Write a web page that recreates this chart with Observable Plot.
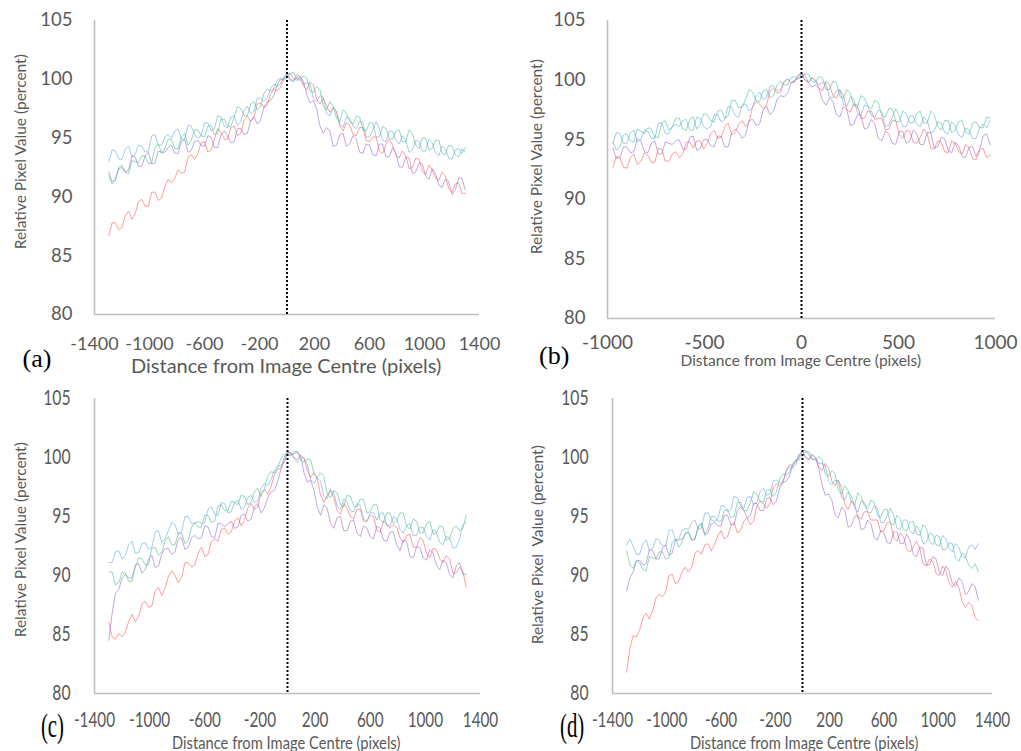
<!DOCTYPE html>
<html>
<head>
<meta charset="utf-8">
<script src="https://cdn.jsdelivr.net/npm/d3@7"></script>
<script src="https://cdn.jsdelivr.net/npm/@observablehq/plot@0.6"></script>
<style>
  body { margin: 0; background: #fff; }
  #fig { position: relative; width: 1021px; height: 751px; overflow: hidden; background: #fff;
         font-family: Lato, "Open Sans", sans-serif; color: #595959; }
  .p { position: absolute; }
  .t { position: absolute; white-space: pre; line-height: 1; transform-origin: center; }
</style>
</head>
<body>
<div id="fig"></div>
<script>
// Sample grids along the horizontal distance (pixels from centre)
const gridWide = d3.range(-1296, 1297, 24);   // panels (a), (c), (d)
const gridNarrow = d3.range(-972, 973, 18);   // panel (b)

const seriesNames = ["series1", "series2", "series3", "series4"];
const seriesColors = ["#ff5c5c", "#9a6ccc", "#6aa8e0", "#4cc08c"];
const yTicks = [80, 85, 90, 95, 100, 105];
const xTicksWide = [-1400, -1000, -600, -200, 200, 600, 1000, 1400];
const xTicksNarrow = [-1000, -500, 0, 500, 1000];

// Panel (a)
const aRed = [86.7,87.8,87.8,87.2,87.4,88.4,88.8,88.1,88.6,89.6, 89.8,89.2,89.2,90.4,90.4,89.7,89.9,90.9,91.5,91.2, 91.6,92.3,92.0,92.1,93.4,93.6,93.2,93.7,94.6,94.7, 93.8,94.0,94.9,95.8,95.5,94.9,94.9,95.9,96.0,95.2, 95.4,96.5,96.9,96.4,96.8,97.9,98.0,97.6,97.8,98.7, 99.2,99.0,99.3,100.1,100.5,100.0,99.9,100.4,100.2,99.4, 99.1,99.8,99.5,98.3,97.9,98.4,97.7,97.2,97.6,97.2, 96.0,95.6,96.3,96.1,95.3,95.2,95.9,95.9,94.8,94.7, 95.1,95.1,93.9,93.7,94.5,94.9,94.4,93.6,93.3,93.9, 93.5,92.4,92.5,93.3,93.2,92.2,91.9,92.7,92.3,91.6, 91.4,92.1,91.8,90.7,90.4,91.1,91.2,90.3,90.3];
const aPurple = [92.1,91.3,91.5,92.4,92.5,92.1,92.3,93.5,93.4,92.6, 92.6,93.5,93.8,92.8,92.9,93.9,93.8,93.8,94.2,94.4, 93.7,93.7,94.7,94.9,93.8,94.0,94.7,94.8,94.4,94.3, 95.2,95.1,94.2,94.2,95.3,95.6,95.2,94.6,94.7,95.8, 95.8,95.3,95.4,96.5,96.8,96.2,96.5,97.6,98.1,98.2, 98.6,99.5,100.0,100.0,100.4,100.5,100.1,99.9,100.3,99.8, 98.7,98.0,98.2,97.5,96.0,95.4,95.9,95.6,94.3,94.4, 95.3,95.4,94.3,94.5,95.2,94.9,93.8,93.7,94.5,94.4, 93.6,93.5,94.5,94.5,93.4,93.4,94.2,93.7,92.6,92.5, 93.4,93.3,92.0,92.1,92.9,92.8,91.8,91.5,92.4,92.0, 91.0,90.8,91.5,91.3,90.2,90.6,91.6,91.6,90.6];
const aBlue = [93.0,94.0,93.9,93.2,93.2,94.1,94.3,93.4,93.6,94.4, 94.3,93.8,93.9,95.2,95.3,94.4,94.4,95.1,95.3,95.0, 95.6,95.8,94.9,94.9,96.1,96.0,95.3,95.0,95.2,96.3, 96.3,95.6,95.8,96.9,96.8,96.0,95.9,96.8,96.9,96.1, 96.4,97.4,97.7,97.1,97.3,98.4,98.4,98.1,98.4,99.2, 99.6,99.4,99.6,100.2,100.4,99.9,99.8,100.2,100.0,99.6, 99.7,99.6,98.4,98.1,98.6,98.5,97.1,96.9,97.6,97.3, 96.2,95.9,96.8,96.7,96.0,95.8,96.4,96.3,95.1,95.1, 95.7,96.4,95.8,94.8,94.7,95.6,95.6,94.8,94.5,95.2, 94.8,93.8,94.0,94.8,94.7,93.9,93.9,94.9,94.6,93.8, 93.5,94.3,94.1,93.3,93.2,94.0,94.1,93.7,94.2];
const aGreen = [91.8,91.1,91.4,92.5,92.7,92.1,92.0,93.1,93.0,92.9, 93.5,93.5,92.8,92.9,94.2,94.5,93.7,94.1,94.9,94.9, 94.1,94.1,95.1,95.4,94.4,94.8,95.7,95.7,95.2,95.1, 96.0,96.1,95.3,95.4,96.6,96.6,96.0,96.0,96.8,97.7, 97.5,96.9,96.9,97.9,98.1,97.4,97.7,98.8,99.2,99.0, 99.2,99.9,100.1,99.9,100.1,100.5,100.6,100.0,99.9,100.3, 100.1,99.0,98.9,99.4,99.1,97.7,97.4,98.1,97.7,96.7, 96.4,97.4,97.1,96.4,96.2,96.9,96.8,95.7,95.6,96.3, 96.3,95.1,95.1,96.0,95.8,95.0,94.9,95.6,95.7,94.7, 94.7,95.7,95.4,94.4,94.1,95.0,95.0,94.0,94.1,94.8, 94.8,93.7,93.6,94.4,94.3,93.6,93.4,94.1,93.8];

// Panel (b)
const bRed = [92.7,93.6,93.5,92.7,92.6,93.5,93.8,92.9,93.2,93.9, 93.7,93.1,93.1,94.3,94.2,93.2,93.2,93.8,94.0,93.5, 93.8,94.8,94.8,94.3,94.9,94.9,94.2,94.7,95.5,95.8, 95.1,95.2,96.1,96.4,95.4,95.6,96.3,96.6,96.1,96.5, 97.8,98.2,98.0,97.6,97.9,99.1,99.3,98.9,99.0,99.8, 100.1,99.8,99.8,100.4,100.6,100.0,99.8,100.2,100.0,99.3, 99.1,99.9,99.6,98.7,98.5,99.2,98.7,97.5,97.3,98.0, 97.9,96.8,96.8,97.4,97.4,96.7,96.8,96.8,95.8,95.9, 96.6,96.6,95.4,95.1,95.8,95.7,94.8,94.7,95.2,95.9, 95.5,94.3,94.2,94.9,94.8,94.0,93.9,94.9,94.7,94.0, 93.8,94.6,94.3,93.4,93.3,94.1,94.3,93.5,93.7];
const bPurple = [94.3,93.4,93.5,94.4,94.4,93.9,94.0,95.1,94.9,94.0, 93.9,94.7,94.9,93.8,93.8,94.8,94.7,94.6,94.9,95.0, 94.2,94.2,95.2,95.3,94.1,94.3,95.0,95.0,94.5,94.4, 95.3,95.3,94.4,94.4,95.6,95.9,95.6,95.1,95.4,96.6, 96.7,96.2,96.3,97.5,97.8,97.1,97.4,98.4,98.7,98.6, 98.9,99.7,100.0,100.1,100.5,100.4,99.8,99.4,99.6,99.3, 98.3,97.9,98.5,98.2,97.1,96.9,97.8,97.5,96.2,96.3, 97.1,97.1,95.9,96.0,96.7,96.3,95.1,94.9,95.7,95.5, 94.7,94.6,95.7,95.7,94.7,94.9,95.8,95.5,94.6,94.6, 95.6,95.6,94.3,94.4,95.2,95.1,94.1,93.9,94.8,94.5, 93.6,93.5,94.4,94.4,93.6,94.2,95.3,95.5,94.6];
const bBlue = [94.7,95.6,95.5,94.7,94.7,95.6,95.8,94.8,95.0,95.8, 95.7,95.1,95.1,96.4,96.4,95.5,95.5,96.1,96.3,96.1, 96.6,96.7,95.8,95.8,96.9,96.8,96.1,95.9,96.1,97.1, 97.1,96.5,96.7,97.8,97.7,97.0,96.9,97.9,98.0,97.4, 97.7,98.7,99.0,98.4,98.5,99.5,99.5,99.1,99.2,99.9, 100.1,99.8,99.9,100.4,100.5,100.0,99.8,100.2,99.9,99.6, 99.8,99.7,98.6,98.5,99.1,99.2,98.0,97.8,98.6,98.4, 97.3,97.0,97.9,97.8,97.0,96.9,97.5,97.3,96.1,96.2, 96.9,97.6,97.0,96.1,96.1,97.0,97.0,96.3,96.1,96.9, 96.6,95.6,95.7,96.5,96.4,95.6,95.5,96.5,96.2,95.4, 95.2,96.0,95.8,95.1,95.1,96.0,96.3,96.0,96.6];
const bGreen = [94.8,94.1,94.4,95.4,95.5,94.9,94.8,95.9,95.7,95.5, 96.0,95.9,95.2,95.2,96.4,96.6,95.8,96.1,96.8,96.8, 95.9,95.8,96.7,96.9,95.9,96.3,97.2,97.1,96.6,96.5, 97.4,97.5,96.8,97.0,98.3,98.3,97.7,97.7,98.4,99.2, 99.0,98.3,98.2,99.1,99.2,98.5,98.7,99.6,99.9,99.6, 99.6,100.2,100.3,100.1,100.2,100.5,100.5,99.9,99.8,100.3, 100.2,99.2,99.2,99.9,99.8,98.6,98.5,99.2,98.9,97.9, 97.7,98.7,98.5,97.8,97.6,98.3,98.1,97.0,96.9,97.6, 97.6,96.5,96.5,97.4,97.2,96.4,96.4,97.2,97.4,96.4, 96.4,97.4,97.1,96.1,95.8,96.6,96.6,95.6,95.8,96.5, 96.6,95.6,95.5,96.4,96.5,96.0,96.0,96.9,96.8];

// Panel (c)
const cRed = [86.0,84.8,84.6,85.1,84.8,85.2,86.1,86.7,86.1,86.5, 87.6,87.8,87.3,87.4,88.7,89.0,88.3,88.9,89.9,90.4, 90.0,89.4,89.8,91.1,91.1,90.7,90.9,91.9,92.4,91.6, 91.8,92.9,93.1,92.9,93.9,94.0,93.5,93.7,94.6,94.9, 94.2,94.7,95.7,96.1,95.6,95.8,97.0,97.3,96.9,97.5, 98.5,99.0,99.1,99.6,100.4,100.4,100.0,99.8,100.2,99.9, 98.9,98.3,98.7,98.2,96.8,96.2,96.8,97.2,96.6,95.5, 95.2,96.1,95.7,95.0,94.8,95.6,95.6,94.6,94.6,95.1, 95.0,93.8,93.7,94.6,94.4,94.0,94.3,94.1,93.2,92.8, 93.4,93.5,92.4,92.4,93.2,93.0,91.9,91.5,92.3,92.2, 91.4,91.1,91.7,91.4,90.2,90.2,90.7,90.4,89.0];
const cPurple = [84.5,86.8,88.5,88.8,89.8,90.1,89.8,89.8,90.9,91.0, 90.2,90.5,91.4,91.7,90.7,90.8,91.8,92.3,92.3,91.8, 92.0,93.1,93.2,92.2,92.4,93.2,93.4,93.1,93.2,94.2, 94.1,93.3,93.2,94.4,94.4,94.1,94.4,94.6,94.0,94.1, 95.1,95.2,94.6,94.8,95.8,96.1,95.3,95.7,96.6,97.1, 97.2,97.9,99.0,100.0,100.5,100.2,100.3,100.5,100.1,98.7, 97.9,98.1,97.2,95.8,95.1,96.0,95.7,94.4,94.0,94.9, 95.0,93.8,93.8,94.6,94.7,93.6,93.3,94.2,94.0,93.3, 93.1,94.2,94.0,93.0,92.9,93.7,93.7,92.6,92.1,93.0, 92.9,91.6,91.5,92.4,92.4,91.5,91.3,92.2,91.9,90.9, 90.5,91.3,91.1,90.1,89.8,90.8,91.1,90.1,90.1];
const cBlue = [91.1,91.1,92.0,92.1,91.4,91.7,92.6,92.9,91.9,91.9, 92.7,92.8,92.2,92.4,93.7,93.8,92.8,93.1,93.8,94.5, 94.3,93.5,93.7,95.0,95.0,94.4,94.4,94.6,94.4,94.5, 95.6,95.8,95.2,95.1,96.2,96.1,95.3,95.4,96.2,96.4, 95.6,95.8,96.6,96.8,96.2,96.3,97.4,97.8,97.6,98.1, 98.9,99.3,99.3,99.7,100.5,100.4,99.9,99.6,99.9,100.0, 99.4,98.1,97.8,98.3,98.0,96.7,96.5,97.3,97.0,95.9, 95.6,96.5,96.2,95.5,95.4,96.1,95.9,94.8,94.6,95.3, 95.3,94.7,95.3,95.3,94.2,94.2,95.0,94.8,93.9,93.6, 94.2,94.4,93.4,93.4,94.1,94.1,93.3,93.0,93.9,93.7, 92.8,92.6,93.3,93.2,92.3,92.4,93.1,94.3,94.5];
const cGreen = [90.3,90.3,89.2,89.4,90.3,90.2,89.5,89.5,90.7,91.5, 91.4,90.9,90.9,92.3,92.4,91.7,92.0,92.9,93.3,92.6, 92.6,93.6,93.6,92.7,93.0,94.1,94.5,94.1,94.1,95.1, 95.1,94.5,94.6,95.9,96.0,95.5,95.5,96.3,96.2,96.0, 96.8,96.7,96.0,96.2,97.1,97.4,96.7,97.3,98.4,98.8, 98.7,99.1,99.9,100.3,100.2,100.2,100.5,100.5,99.8,99.6, 99.9,99.8,98.6,98.3,98.7,98.4,96.9,96.6,97.2,97.0, 96.0,95.8,96.8,96.7,95.9,95.8,96.5,96.4,95.3,95.4, 96.0,96.0,94.7,94.5,95.3,95.3,94.4,94.6,95.3,95.3, 94.2,93.9,94.8,94.6,93.6,93.6,94.4,94.6,93.5,93.6, 94.2,94.1,93.0,93.1,94.0,94.2,93.8,94.0,95.1];

// Panel (d)
const dRed = [81.8,83.8,84.9,84.8,85.4,86.4,86.8,86.3,87.0,88.1, 88.4,88.2,88.6,90.0,90.1,89.3,89.5,90.3,90.7,90.3, 90.7,91.9,92.1,91.8,92.6,92.7,92.1,92.6,93.4,93.8, 93.1,93.3,94.2,94.5,93.6,93.8,94.6,94.9,94.3,94.6, 95.9,96.3,96.1,95.7,96.1,97.5,97.8,97.6,97.9,98.9, 99.4,99.3,99.6,100.3,100.5,100.0,99.8,100.2,100.0,99.2, 98.9,99.5,99.1,98.0,97.6,98.1,97.4,96.0,95.6,96.3, 96.1,94.9,94.8,95.4,95.4,94.7,94.7,94.7,93.7,93.8, 94.5,94.5,93.2,92.9,93.6,93.3,92.2,92.0,92.4,92.9, 92.3,91.0,90.8,91.4,91.2,90.2,90.0,90.8,90.4,89.4, 89.0,89.5,89.0,87.8,87.3,87.7,87.5,86.4,86.2];
const dPurple = [88.7,89.8,90.3,91.2,91.3,90.9,91.0,92.2,92.1,91.4, 91.4,92.3,92.6,91.7,91.9,93.0,93.0,93.1,93.5,93.7, 93.0,93.1,94.2,94.4,93.4,93.6,94.4,94.5,94.2,94.2, 95.1,95.1,94.3,94.3,95.5,95.8,95.5,94.9,95.1,96.1, 96.1,95.5,95.5,96.5,96.6,96.0,96.3,97.4,97.9,98.0, 98.4,99.3,99.8,100.0,100.6,100.6,100.2,99.8,99.9,99.1, 97.7,96.8,96.9,96.4,95.1,94.9,95.8,95.5,94.1,94.2, 95.0,95.1,93.9,94.0,94.7,94.4,93.2,93.0,93.8,93.6, 92.8,92.7,93.7,93.7,92.7,92.7,93.5,93.0,91.8,91.6, 92.4,92.3,90.9,90.9,91.6,91.4,90.3,90.0,90.8,90.4, 89.3,89.1,89.8,89.5,88.4,88.6,89.3,89.1,87.9];
const dBlue = [92.6,93.1,92.5,91.8,91.8,92.7,93.0,92.1,92.3,93.1, 93.0,92.5,92.5,93.8,93.9,93.0,93.1,93.8,94.0,93.9, 94.5,94.7,93.9,94.0,95.3,95.3,94.7,94.6,94.8,95.9, 95.9,95.4,95.6,96.7,96.6,95.9,95.7,96.6,96.7,96.0, 96.2,97.1,97.4,96.8,96.9,98.0,98.1,97.8,98.0,98.8, 99.2,99.1,99.4,100.2,100.5,100.0,99.9,100.3,100.0,99.5, 99.5,99.3,98.0,97.7,98.1,98.0,96.6,96.4,97.1,96.8, 95.7,95.4,96.3,96.2,95.4,95.3,95.9,95.7,94.5,94.5, 95.1,95.7,95.1,94.0,93.9,94.7,94.7,93.8,93.5,94.2, 93.8,92.7,92.8,93.6,93.5,92.6,92.5,93.4,93.1,92.3, 92.0,92.7,92.4,91.6,91.5,92.4,92.6,92.2,92.7];
const dGreen = [92.1,90.9,90.6,91.3,91.1,90.5,90.4,91.6,91.5,91.4, 92.0,92.0,91.4,91.5,92.8,93.1,92.4,92.8,93.6,93.7, 93.0,93.1,94.1,94.4,93.5,94.0,95.0,95.0,94.6,94.6, 95.5,95.6,94.9,95.0,96.2,96.2,95.5,95.5,96.2,97.1, 96.9,96.3,96.2,97.2,97.3,96.7,97.1,98.2,98.6,98.5, 98.7,99.5,99.8,99.8,100.2,100.5,100.5,99.9,99.8,100.1, 99.8,98.6,98.4,98.9,98.6,97.2,96.9,97.6,97.2,96.2, 96.0,97.0,96.7,95.9,95.7,96.4,96.2,95.1,94.9,95.6, 95.6,94.4,94.3,95.1,94.8,93.9,93.8,94.5,94.6,93.5, 93.4,94.3,94.0,92.9,92.6,93.4,93.3,92.2,92.2,92.8, 92.7,91.5,91.2,91.9,91.7,90.9,90.6,91.0,90.3];

const fig = document.getElementById("fig");

function panel(cfg) {
  const rows = [];
  cfg.series.forEach(([name, vals]) =>
    vals.forEach((v, i) => rows.push({x: cfg.grid[i], y: v, s: name})));
  const chart = Plot.plot({
    width: cfg.w, height: cfg.h,
    marginLeft: cfg.fx0 - cfg.left, marginRight: cfg.left + cfg.w - cfg.fx1,
    marginTop: cfg.fy0 - cfg.top, marginBottom: cfg.top + cfg.h - cfg.fy1,
    x: {domain: cfg.xDomain},
    y: {domain: [80, 105]},
    color: {domain: seriesNames, range: seriesColors},
    style: {fontFamily: "Lato, 'Open Sans', sans-serif", fontSize: cfg.yFont + "px",
            color: "#595959", background: "transparent", overflow: "visible"},
    marks: [
      Plot.ruleX([cfg.xDomain[0]], {stroke: "#bfbfbf", strokeWidth: 1.6}),
      Plot.ruleY([80], {stroke: "#bfbfbf", strokeWidth: 1.6}),
      Plot.line(rows, {x: "x", y: "y", z: "s", stroke: "s", strokeWidth: 0.8, strokeOpacity: 0.75}),
      Plot.ruleX([0], {stroke: "#000", strokeWidth: 2, strokeDasharray: "2,2"}),
      Plot.axisY({ticks: yTicks, tickSize: 0, tickPadding: cfg.yPad, tickFormat: d => String(d),
                  label: null, fontSize: cfg.yFont, fill: "#595959"}),
      Plot.axisX({ticks: cfg.xTicks, tickSize: 0, tickPadding: cfg.xPad, tickFormat: d => String(d),
                  label: null, fontSize: cfg.xFont, fill: "#595959"})
    ]
  });
  if (cfg.squeeze) {
    chart.querySelectorAll('g[aria-label$="tick label"] text').forEach(t => {
      const tr = t.getAttribute("transform") || "";
      t.setAttribute("transform", tr + ` scale(${cfg.squeeze[0]},${cfg.squeeze[1]})`);
    });
  }
  chart.classList.add("p");
  chart.style.left = cfg.left + "px";
  chart.style.top = cfg.top + "px";
  fig.appendChild(chart);
}

function label(text, cx, cy, opts = {}) {
  const d = document.createElement("div");
  d.className = "t";
  d.textContent = text;
  d.style.fontSize = (opts.size || 15) + "px";
  if (opts.font) d.style.fontFamily = opts.font;
  d.style.color = opts.color || "#595959";
  fig.appendChild(d);
  const w = d.offsetWidth, h = d.offsetHeight;
  d.style.left = (cx - w / 2) + "px";
  d.style.top = (cy - h / 2) + "px";
  const parts = [];
  if (opts.rotate) parts.push(`rotate(${opts.rotate}deg)`);
  if (opts.scale) parts.push(`scale(${opts.scale[0]},${opts.scale[1]})`);
  if (parts.length) d.style.transform = parts.join(" ");
}

const fourSeries = (r, p, b, g) => [["series1", r], ["series2", p], ["series3", b], ["series4", g]];

panel({left: 0, top: 0, w: 500, h: 380, fx0: 94, fx1: 479, fy0: 20, fy1: 314,
       xDomain: [-1400, 1400], xTicks: xTicksWide, grid: gridWide,
       series: fourSeries(aRed, aPurple, aBlue, aGreen),
       yFont: 18.5, xFont: 18, yPad: 22, xPad: 23});
panel({left: 500, top: 0, w: 521, h: 380, fx0: 607, fx1: 995, fy0: 20, fy1: 318,
       xDomain: [-1000, 1000], xTicks: xTicksNarrow, grid: gridNarrow,
       series: fourSeries(bRed, bPurple, bBlue, bGreen),
       yFont: 18.5, xFont: 19, yPad: 22, xPad: 17});
panel({left: 0, top: 378, w: 500, h: 373, fx0: 94, fx1: 480, fy0: 398, fy1: 693,
       xDomain: [-1400, 1400], xTicks: xTicksWide, grid: gridWide,
       series: fourSeries(cRed, cPurple, cBlue, cGreen),
       yFont: 18.5, xFont: 18, yPad: 24, xPad: 19, squeeze: [0.85, 1.12]});
panel({left: 500, top: 378, w: 521, h: 373, fx0: 612, fx1: 992, fy0: 398, fy1: 693,
       xDomain: [-1400, 1400], xTicks: xTicksWide, grid: gridWide,
       series: fourSeries(dRed, dPurple, dBlue, dGreen),
       yFont: 18.5, xFont: 18, yPad: 24, xPad: 19, squeeze: [0.85, 1.12]});

// Axis titles
const xTitle = "Distance from Image Centre (pixels)";
label(xTitle, 286, 365, {size: 20});
label(xTitle, 801, 361, {size: 15.5});
label(xTitle, 286, 742, {size: 16, scale: [0.92, 1.1]});
label(xTitle, 804, 742, {size: 16, scale: [0.92, 1.1]});

label("Relative Pixel Value (percent)", 20, 152, {size: 15.5, rotate: -90});
label("Relative Pixel Value (percent)", 536, 157, {size: 15.5, rotate: -90});
label("Relative Pixel Value (percent)", 20, 540, {size: 15.5, rotate: -90});
label("Relative Pixel  Value (percent)", 537, 545, {size: 15.5, rotate: -90});

// Panel letters
const serif = "'Liberation Serif', 'DejaVu Serif', serif";
label("(a)", 37, 359, {size: 26, font: serif, color: "#000"});
label("(b)", 554, 356, {size: 26, font: serif, color: "#000"});
label("(c)", 52, 727, {size: 26, font: serif, color: "#000", scale: [0.8, 1.3]});
label("(d)", 572, 727, {size: 26, font: serif, color: "#000", scale: [0.8, 1.3]});
</script>
</body>
</html>
